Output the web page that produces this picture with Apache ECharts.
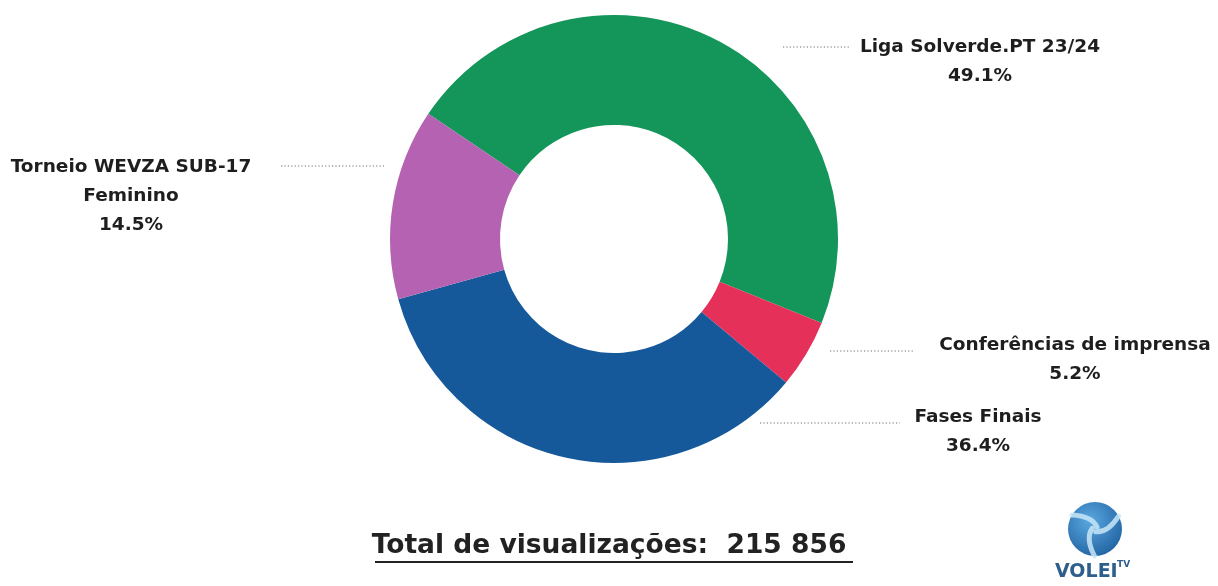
<!DOCTYPE html>
<html><head><meta charset="utf-8">
<script src="https://cdn.jsdelivr.net/npm/echarts@6/dist/echarts.min.js"></script>
<style>html,body{margin:0;padding:0;background:#fff}#c{width:1218px;height:586px}</style>
</head><body><div id="c"></div>
<script>
// ---- data ----
const categories = ['Liga Solverde.PT 23/24', 'Conferências de imprensa', 'Fases Finais', 'Torneio WEVZA SUB-17 Feminino'];
const labelNames = ['Liga Solverde.PT 23/24', 'Conferências de imprensa', 'Fases Finais', 'Torneio WEVZA SUB-17\nFeminino'];
const values = [49.1, 5.2, 36.4, 14.5];
const pctLabels = ['49.1%', '5.2%', '36.4%', '14.5%'];
const totalText = 'Total de visualizações:  215 856';

// ---- styling / layout ----
const colors = ['#14965a', '#e5305a', '#16599b', '#b462b1'];
const FONT = 'DejaVu Sans';
const labelPos = [
  { x: 980, y: 33, line: [783, 850, 47] },
  { x: 1075, y: 331, line: [830, 913, 351] },
  { x: 978, y: 403, line: [760, 900, 423] },
  { x: 131, y: 153, line: [281, 384, 166] }
];

const chart = echarts.init(document.getElementById('c'), null, { renderer: 'canvas' });

const data = categories.map((c, i) => ({
  name: c, value: values[i], itemStyle: { color: colors[i] }
}));

function blade(rot) {
  return {
    type: 'bezierCurve', rotation: rot, originX: 0, originY: 0,
    shape: { x1: 2, y1: -2, x2: -23, y2: -14, cpx1: -3, cpy1: -13 },
    style: { stroke: 'rgba(200,230,248,0.85)', lineWidth: 5, fill: null, lineCap: 'round' }
  };
}

chart.setOption({
  animation: false,
  title: {
    text: totalText, left: 'center', top: 528,
    textStyle: { fontFamily: FONT, fontSize: 26.5, fontWeight: 'bold', color: '#222' }
  },
  series: [{
    type: 'pie',
    center: [614, 239],
    radius: [114, 224],
    startAngle: 146,
    clockwise: true,
    avoidLabelOverlap: false,
    data: data,
    itemStyle: { borderWidth: 0 },
    label: {
      show: true,
      formatter: p => labelNames[p.dataIndex] + '\n' + pctLabels[p.dataIndex],
      fontFamily: FONT, fontSize: 18.5, fontWeight: 'bold', color: '#1e1e1e',
      lineHeight: 29, align: 'center'
    },
    labelLine: { show: true, lineStyle: { color: '#6e6e6e', width: 1.2, type: [1.2, 2.2] } },
    labelLayout: function (params) {
      const p = labelPos[params.dataIndex];
      const l = p.line;
      return {
        x: p.x, y: p.y, align: 'center', verticalAlign: 'top',
        labelLinePoints: [[l[0], l[2]], [(l[0] + l[1]) / 2, l[2]], [l[1], l[2]]]
      };
    }
  }],
  graphic: [
    { type: 'line', shape: { x1: 375, y1: 562, x2: 853, y2: 562 }, style: { stroke: '#222', lineWidth: 2 } },
    {
      type: 'group', x: 1095, y: 529,
      children: [
        { type: 'circle', shape: { cx: 0, cy: 0, r: 27 },
          style: { fill: new echarts.graphic.RadialGradient(0.4, 0.35, 0.8, [
            { offset: 0, color: '#5aa8e0' }, { offset: 1, color: '#1a5a9a' }]) } },
        blade(0), blade(2.094), blade(4.189)
      ]
    },
    { type: 'text', left: 1055, top: 563,
      style: { text: 'VOLEI', font: 'bold 19px "DejaVu Sans"', fill: '#2d5e8c' } },
    { type: 'text', left: 1117, top: 560,
      style: { text: 'TV', font: 'bold 9px "DejaVu Sans"', fill: '#2d5e8c' } }
  ]
});
</script>
</body></html>
